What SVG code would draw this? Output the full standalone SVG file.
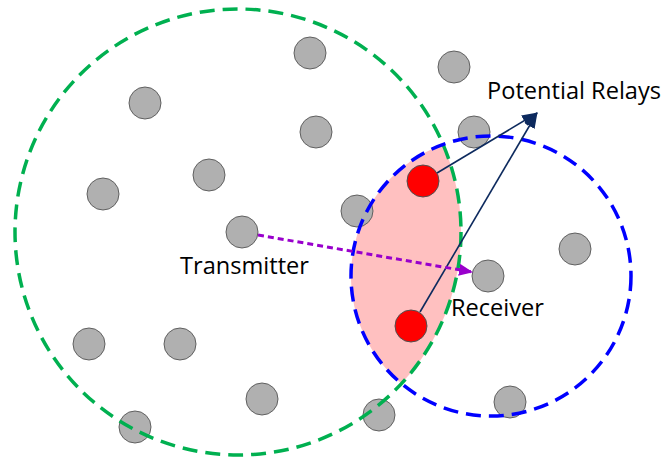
<svg xmlns="http://www.w3.org/2000/svg" width="668" height="460" viewBox="0 0 668 460">
<style>
.node{fill:#B0B0B0;stroke:#606060;stroke-width:1}
.relay{fill:#FF0000;stroke:#505050;stroke-width:1}
.range{fill:none;stroke-width:3.5;stroke-dasharray:15 8}
.lbl{font-family:"Open Sans","Liberation Sans",sans-serif;font-size:23.6px;fill:#000}
.rl{stroke:#0D2A5E;stroke-width:1.6;fill:none}
</style>
<defs>
<marker id="navy" markerUnits="userSpaceOnUse" markerWidth="16" markerHeight="12" refX="15" refY="6" orient="auto" viewBox="0 0 16 12">
<path d="M0,0 L16,6 L0,12 z" fill="#0D2A5E"/>
</marker>
<marker id="purp" markerUnits="userSpaceOnUse" markerWidth="14" markerHeight="12" refX="13" refY="6" orient="auto" viewBox="0 0 14 12">
<path d="M0,0 L14,6 L0,12 z" fill="#9900CC"/>
</marker>
</defs>
<path id="overlap" d="M443.1,144.4 A223,223 0 0 1 401.5,383.6 A140,140 0 0 1 443.1,144.4 z" fill="#FFC0C0"/>
<g id="nodes">
<g id="n1"><circle class="node" cx="310" cy="53" r="16"/></g>
<g id="n2"><circle class="node" cx="145" cy="103" r="16"/></g>
<g id="n3"><circle class="node" cx="316" cy="132" r="16"/></g>
<g id="n4"><circle class="node" cx="209" cy="175" r="16"/></g>
<g id="n5"><circle class="node" cx="103" cy="194" r="16"/></g>
<g id="transmitter"><circle class="node" cx="242" cy="232" r="16"/></g>
<g id="n6"><circle class="node" cx="89" cy="344" r="16"/></g>
<g id="n7"><circle class="node" cx="180" cy="344" r="16"/></g>
<g id="n8"><circle class="node" cx="262" cy="399" r="16"/></g>
<g id="n9"><circle class="node" cx="135" cy="427" r="16"/></g>
<g id="n10"><circle class="node" cx="454" cy="67" r="16"/></g>
<g id="n11"><circle class="node" cx="474" cy="132" r="16"/></g>
<g id="n12"><circle class="node" cx="357" cy="211" r="16"/></g>
<g id="n13"><circle class="node" cx="575" cy="249" r="16"/></g>
<g id="receiver"><circle class="node" cx="488" cy="276" r="16"/></g>
<g id="n14"><circle class="node" cx="379" cy="415" r="16"/></g>
<g id="n15"><circle class="node" cx="510" cy="402" r="16"/></g>
</g>
<g id="ranges">
<circle id="tx-range" class="range" cx="238" cy="232" r="223" stroke="#00B050"/>
<circle id="rx-range" class="range" cx="491" cy="276" r="140" stroke="#0000FF"/>
</g>
<g id="relays">
<g id="relay1"><circle class="relay" cx="423" cy="181" r="16"/></g>
<g id="relay2"><circle class="relay" cx="411" cy="326" r="16"/></g>
</g>
<g id="connectors">
<line class="rl" x1="437" y1="173" x2="537" y2="113" marker-end="url(#navy)"/>
<line class="rl" x1="420" y1="312" x2="537" y2="113" marker-end="url(#navy)"/>
<line x1="258" y1="235" x2="472" y2="272" stroke="#9900CC" stroke-width="3" stroke-dasharray="6 4" marker-end="url(#purp)"/>
</g>
<g id="labels">
<text class="lbl" x="487" y="99">Potential Relays</text>
<text class="lbl" x="180" y="274">Transmitter</text>
<text class="lbl" x="451" y="316">Receiver</text>
</g>
</svg>
